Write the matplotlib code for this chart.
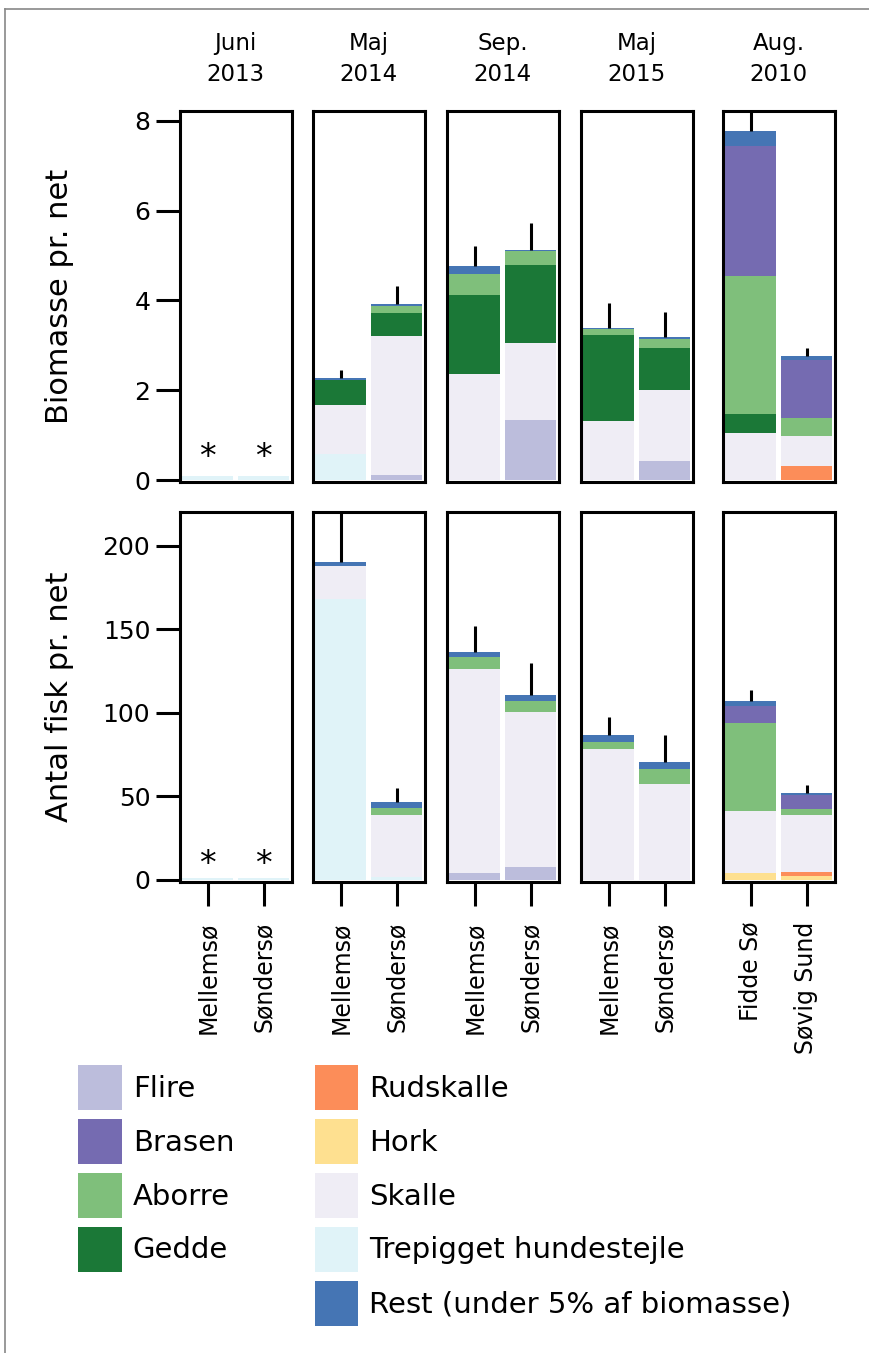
import matplotlib
matplotlib.use("Agg")
import matplotlib.pyplot as plt
import numpy as np
from matplotlib.patches import Patch
from matplotlib.lines import Line2D

plt.rcParams['font.family'] = ['DejaVu Sans']

# ---------------- data ----------------
periods = ["Juni\n2013", "Maj\n2014", "Sep.\n2014", "Maj\n2015", "Aug.\n2010"]
lakes = [["Mellemsø", "Søndersø"], ["Mellemsø", "Søndersø"], ["Mellemsø", "Søndersø"],
         ["Mellemsø", "Søndersø"], ["Fidde Sø", "Søvig Sund"]]

# stacking order, bottom to top
species = ["Trepigget hundestejle", "Hork", "Rudskalle", "Flire", "Skalle",
           "Gedde", "Aborre", "Brasen", "Rest (under 5% af biomasse)"]
colors = {"Flire": "#bcbddc", "Brasen": "#756bb1", "Aborre": "#7fbf7b", "Gedde": "#1b7837",
          "Rudskalle": "#fc8d59", "Hork": "#fee090", "Skalle": "#efedf5",
          "Trepigget hundestejle": "#e0f3f8", "Rest (under 5% af biomasse)": "#4575b4"}

# biomass per net, per panel, per bar: segment values in species order
trepigget_bio = [[0.08, 0.08], [0.58, 0.0], [0.0, 0.0], [0.0, 0.0], [0.0, 0.0]]
hork_bio      = [[0.0, 0.0], [0.0, 0.0], [0.0, 0.0], [0.0, 0.0], [0.0, 0.0]]
rudskalle_bio = [[0.0, 0.0], [0.0, 0.0], [0.0, 0.0], [0.0, 0.0], [0.0, 0.31]]
flire_bio     = [[0.0, 0.0], [0.0, 0.11], [0.0, 1.34], [0.0, 0.42], [0.0, 0.0]]
skalle_bio    = [[0.0, 0.0], [1.09, 3.10], [2.36, 1.71], [1.31, 1.58], [1.05, 0.67]]
gedde_bio     = [[0.0, 0.0], [0.56, 0.52], [1.76, 1.74], [1.92, 0.94], [0.42, 0.0]]
aborre_bio    = [[0.0, 0.0], [0.0, 0.14], [0.47, 0.31], [0.13, 0.20], [3.07, 0.40]]
brasen_bio    = [[0.0, 0.0], [0.0, 0.0], [0.0, 0.0], [0.0, 0.0], [2.90, 1.29]]
rest_bio      = [[0.0, 0.0], [0.04, 0.05], [0.18, 0.02], [0.03, 0.04], [0.33, 0.09]]
err_bio       = [[0.0, 0.0], [0.18, 0.40], [0.44, 0.60], [0.55, 0.56], [0.43, 0.18]]

# number of fish per net
trepigget_n = [[1.0, 1.0], [168.0, 1.8], [0.0, 0.0], [0.0, 0.0], [0.0, 0.0]]
hork_n      = [[0.0, 0.0], [0.0, 0.0], [0.0, 0.0], [0.0, 0.0], [4.2, 2.4]]
rudskalle_n = [[0.0, 0.0], [0.0, 0.0], [0.0, 0.0], [0.0, 0.0], [0.0, 2.4]]
flire_n     = [[0.0, 0.0], [0.0, 0.0], [4.2, 7.8], [0.0, 0.0], [0.0, 0.0]]
skalle_n    = [[0.0, 0.0], [20.0, 37.2], [122.1, 92.8], [78.4, 57.5], [37.1, 34.1]]
gedde_n     = [[0.0, 0.0], [0.0, 0.0], [0.0, 0.0], [0.0, 0.0], [0.0, 0.0]]
aborre_n    = [[0.0, 0.0], [0.0, 4.0], [7.2, 6.4], [4.2, 9.0], [52.7, 3.6]]
brasen_n    = [[0.0, 0.0], [0.0, 0.0], [0.0, 0.0], [0.0, 0.0], [10.2, 8.4]]
rest_n      = [[0.0, 0.0], [2.4, 3.7], [3.0, 3.8], [4.2, 4.2], [3.0, 1.2]]
err_n       = [[0.0, 0.0], [30.0, 8.3], [15.5, 19.2], [10.8, 16.1], [6.6, 4.8]]

bio_table = [trepigget_bio, hork_bio, rudskalle_bio, flire_bio, skalle_bio,
             gedde_bio, aborre_bio, brasen_bio, rest_bio]
num_table = [trepigget_n, hork_n, rudskalle_n, flire_n, skalle_n,
             gedde_n, aborre_n, brasen_n, rest_n]
asterisk_panels = [0]

legend_col1 = ["Flire", "Brasen", "Aborre", "Gedde"]
legend_col2 = ["Rudskalle", "Hork", "Skalle", "Trepigget hundestejle", "Rest (under 5% af biomasse)"]

# ---------------- figure ----------------
W, H = 869, 1353
fig = plt.figure(figsize=(W / 100, H / 100), dpi=100)

def px_axes(x0, y0, x1, y1):
    return fig.add_axes([x0 / W, 1 - y1 / H, (x1 - x0) / W, (y1 - y0) / H])

panel_x = [(179.5, 291.5), (312.5, 424.5), (446.5, 558.5), (580.5, 692.5), (722.5, 834.5)]
row_y = [(110.5, 481.5), (511.5, 881.5)]
ylims = [(-0.033, 8.23), (-0.9, 220.5)]
tables = [bio_table, num_table]
errs = [err_bio, err_n]
ast_y = [0.5, 9.3]

lw = 2.2
for r in range(2):
    for p in range(5):
        ax = px_axes(panel_x[p][0], row_y[r][0], panel_x[p][1], row_y[r][1])
        xs = np.arange(2)
        bottom = np.zeros(2)
        for s_i, sp in enumerate(species):
            vals = np.array(tables[r][s_i][p])
            ax.bar(xs, vals, width=0.9, bottom=bottom, color=colors[sp], linewidth=0)
            bottom = bottom + vals
        e = np.array(errs[r][p])
        for i in range(2):
            if e[i] > 0:
                ax.vlines(xs[i], bottom[i], bottom[i] + e[i], color="black", lw=lw, zorder=3)
        if p in asterisk_panels:
            for i in range(2):
                ax.text(xs[i], ast_y[r], "*", ha="center", va="center", fontsize=24)
        ax.set_xlim(-0.5, 1.5)
        ax.set_ylim(*ylims[r])
        for sp_ in ax.spines.values():
            sp_.set_linewidth(lw)
        ax.tick_params(axis="both", length=17, width=lw, labelsize=18, pad=4)
        if r == 0:
            ax.set_xticks([])
            ax.set_yticks([0, 2, 4, 6, 8])
            ax.set_title(periods[p], fontsize=16.5, pad=21, linespacing=1.45)
        else:
            ax.set_xticks(xs)
            ax.set_xticklabels(lakes[p], rotation=90, fontsize=17)
            ax.tick_params(axis="x", pad=12)
            ax.set_yticks([0, 50, 100, 150, 200])
        if p != 0:
            ax.set_yticks([])
        else:
            ax.set_ylabel(["Biomasse pr. net", "Antal fisk pr. net"][r], fontsize=22)
            ax.yaxis.set_label_coords((74 - panel_x[0][0]) / (panel_x[0][1] - panel_x[0][0]), 0.5)

# legend
handles = [Patch(facecolor=colors[s], edgecolor="none") for s in legend_col1]
handles.append(Patch(facecolor="none", edgecolor="none"))
handles += [Patch(facecolor=colors[s], edgecolor="none") for s in legend_col2]
labels = legend_col1 + [""] + legend_col2
fig.legend(handles, labels, ncol=2, loc="upper left",
           bbox_to_anchor=(78 / W, 1 - 1065 / H), frameon=False, fontsize=21,
           handlelength=1.5, handleheight=1.99, labelspacing=0.31,
           handletextpad=0.38, columnspacing=2.75, borderaxespad=0, borderpad=0)

# page frame lines
fig.add_artist(Line2D([5 / W, 1], [1 - 9 / H, 1 - 9 / H], color="#888888", lw=1.2))
fig.add_artist(Line2D([5 / W, 5 / W], [0, 1 - 9 / H], color="#888888", lw=1.2))

fig.savefig("out.png", dpi=100)
